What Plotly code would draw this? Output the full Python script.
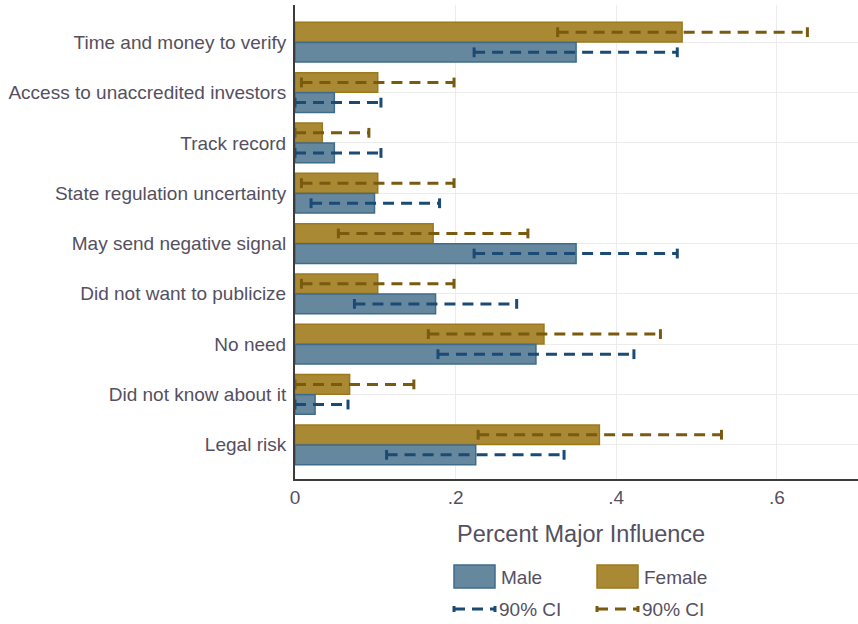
import plotly.graph_objects as go

# Reasons for not using general solicitation, share citing each as a major influence
categories = [
    "Time and money to verify",
    "Access to unaccredited investors",
    "Track record",
    "State regulation uncertainty",
    "May send negative signal",
    "Did not want to publicize",
    "No need",
    "Did not know about it",
    "Legal risk",
]

male = [0.350, 0.049, 0.049, 0.099, 0.350, 0.175, 0.300, 0.025, 0.225]
male_lo = [0.223, 0.0, 0.0, 0.020, 0.223, 0.074, 0.178, 0.0, 0.114]
male_hi = [0.476, 0.107, 0.107, 0.180, 0.476, 0.276, 0.422, 0.066, 0.335]

female = [0.482, 0.103, 0.034, 0.103, 0.172, 0.103, 0.310, 0.068, 0.379]
female_lo = [0.327, 0.008, 0.0, 0.008, 0.054, 0.008, 0.166, 0.0, 0.228]
female_hi = [0.638, 0.198, 0.092, 0.198, 0.290, 0.198, 0.455, 0.148, 0.531]

x_ticks = [0, 0.2, 0.4, 0.6]
x_tick_text = ["0", ".2", ".4", ".6"]

MALE_FILL = "#66889f"
MALE_EDGE = "#3f6b8c"
MALE_CI = "#1b4a74"
FEMALE_FILL = "#a98934"
FEMALE_EDGE = "#9c7a1c"
FEMALE_CI = "#7a5a0e"
TEXT = "#55505f"
FONT = "Liberation Sans, Arial, sans-serif"
FS = 19

pos = list(range(len(categories)))
female_y = [p - 0.2 for p in pos]
male_y = [p + 0.2 for p in pos]


def ci_segments(lo, hi, ys):
    xs, yy = [], []
    for a, b, y in zip(lo, hi, ys):
        xs += [a, b, None]
        yy += [y, y, None]
    return xs, yy


fig = go.Figure()

fig.add_trace(go.Bar(
    x=female, y=female_y, orientation="h", width=0.39, name="Female",
    marker=dict(color=FEMALE_FILL, line=dict(color=FEMALE_EDGE, width=1.5)),
    showlegend=False,
))
fig.add_trace(go.Bar(
    x=male, y=male_y, orientation="h", width=0.39, name="Male",
    marker=dict(color=MALE_FILL, line=dict(color=MALE_EDGE, width=1.5)),
    showlegend=False,
))

for lo, hi, ys, col in [(female_lo, female_hi, female_y, FEMALE_CI),
                        (male_lo, male_hi, male_y, MALE_CI)]:
    cx, cy = ci_segments(lo, hi, ys)
    fig.add_trace(go.Scatter(
        x=cx, y=cy, mode="lines+markers", cliponaxis=False,
        line=dict(color=col, width=3, dash="11px,7px"),
        marker=dict(symbol="line-ns", size=7, color=col,
                    line=dict(color=col, width=3)),
        showlegend=False, hoverinfo="skip",
    ))

fig.update_layout(
    width=858, height=624,
    margin=dict(l=295, r=0, t=5, b=145),
    plot_bgcolor="white", paper_bgcolor="white",
    barmode="overlay",
    font=dict(family=FONT, color=TEXT, size=FS),
    showlegend=False,
)

fig.update_xaxes(
    range=[0, 0.701], tickvals=x_ticks, ticktext=x_tick_text,
    showgrid=True, gridcolor="#ececec", gridwidth=1, zeroline=False,
    showline=True, linecolor="#3c3c3c", linewidth=2, ticks="",
    tickfont=dict(size=FS, color=TEXT),
)
fig.update_yaxes(
    range=[8.68, -0.74], tickvals=pos, ticktext=categories,
    showgrid=True, gridcolor="#ececec", gridwidth=1, zeroline=False,
    showline=True, linecolor="#3c3c3c", linewidth=2, ticks="",
    ticklabelstandoff=3, tickfont=dict(size=FS, color=TEXT),
)

# Axis title and hand-built two-column legend below the plot
W, H = 563.0, 474.0


def px_x(v):
    return (v - 295) / W


def px_y(v):
    return (479 - v) / H


annotations = [
    dict(text="Percent Major Influence", x=px_x(581), y=px_y(534),
         xref="paper", yref="paper", showarrow=False,
         font=dict(size=23.5, color=TEXT), xanchor="center", yanchor="middle"),
]
shapes = []

legend_cols = [
    (454, "Male", MALE_FILL, MALE_EDGE, MALE_CI),
    (597, "Female", FEMALE_FILL, FEMALE_EDGE, FEMALE_CI),
]
for x0, label, fill, edge, ci in legend_cols:
    shapes.append(dict(type="rect", xref="paper", yref="paper",
                       x0=px_x(x0), x1=px_x(x0 + 41), y0=px_y(588), y1=px_y(565),
                       fillcolor=fill, line=dict(color=edge, width=1.5)))
    annotations.append(dict(text=label, x=px_x(x0 + 45), y=px_y(577),
                            xref="paper", yref="paper", showarrow=False,
                            xanchor="left", yanchor="middle",
                            font=dict(size=FS, color=TEXT)))
    shapes.append(dict(type="line", xref="paper", yref="paper",
                       x0=px_x(x0), x1=px_x(x0 + 41), y0=px_y(609), y1=px_y(609),
                       line=dict(color=ci, width=3, dash="11px,7px")))
    for cx in (x0, x0 + 41):
        shapes.append(dict(type="line", xref="paper", yref="paper",
                           x0=px_x(cx), x1=px_x(cx), y0=px_y(606), y1=px_y(612),
                           line=dict(color=ci, width=3)))
    annotations.append(dict(text="90% CI", x=px_x(x0 + 43), y=px_y(609),
                            xref="paper", yref="paper", showarrow=False,
                            xanchor="left", yanchor="middle",
                            font=dict(size=FS, color=TEXT)))

fig.update_layout(annotations=annotations, shapes=shapes)

fig.write_html("out.html")
